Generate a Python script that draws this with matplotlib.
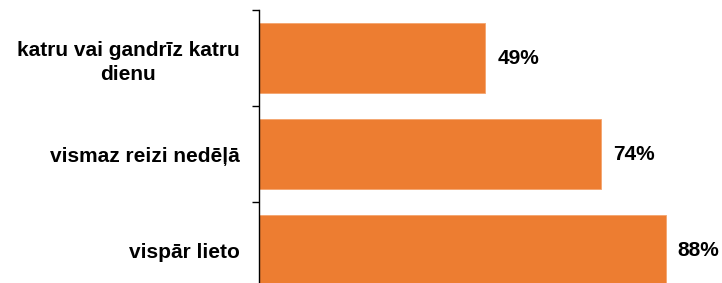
import matplotlib.pyplot as plt
import numpy as np

plt.rcParams['font.family'] = ['Liberation Sans', 'DejaVu Sans']

# Data
categories = ['katru vai gandrīz katru\ndienu', 'vismaz reizi nedēļā', 'vispār lieto']
values = [49, 74, 88]

fig = plt.figure(figsize=(7.22, 2.83), dpi=100)
ax = fig.add_axes([259 / 722, 1 - 298 / 283, 462 / 722, 288 / 283])

y = np.arange(len(categories))
ax.barh(y, values, height=0.72, color='#ED7D31', edgecolor='#F4A46E', linewidth=0.6)

for yi, v in zip(y, values):
    ax.text(v + 2.6, yi, f'{v}%', va='center', ha='left',
            fontsize=15, fontweight='bold', color='black')

ax.set_xlim(0, 100)
ax.set_ylim(len(categories) - 0.5, -0.5)

ax.set_yticks(y)
ax.set_yticklabels(categories, fontsize=15, fontweight='bold',
                   multialignment='center', linespacing=1.3)
ax.tick_params(axis='y', which='major', length=0, pad=14)
ax.set_yticks(np.arange(len(categories) + 1) - 0.5, minor=True)
ax.tick_params(axis='y', which='minor', length=5, width=1, direction='out')

ax.set_xticks([])
for s in ['top', 'right', 'bottom']:
    ax.spines[s].set_visible(False)
ax.spines['left'].set_linewidth(1)

fig.savefig('out.png', dpi=100)
